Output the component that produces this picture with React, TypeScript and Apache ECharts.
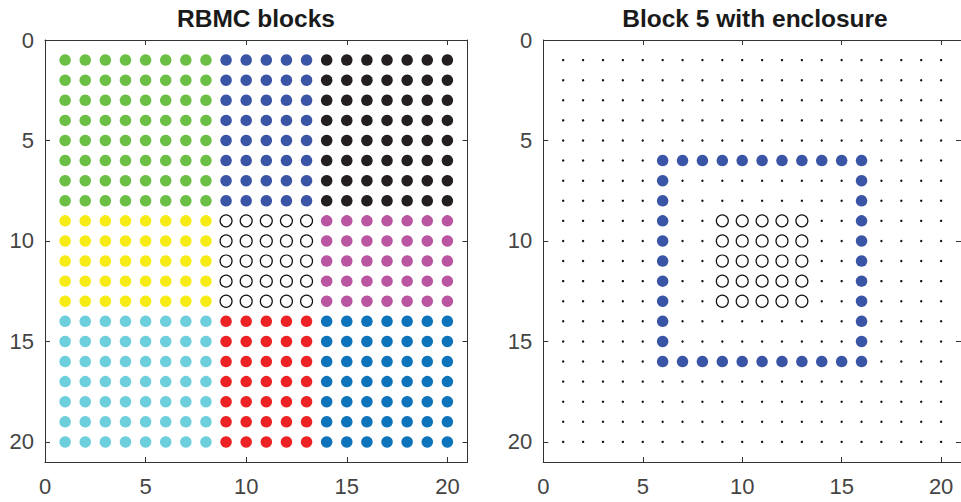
import React, { useEffect, useRef } from "react";
import * as echarts from "echarts";

// ---- data ----
const gridSize = 20;
const axisMax = 21;
const tickStep = 5;
const leftTitle = "RBMC blocks";
const rightTitle = "Block 5 with enclosure";
const colBands: number[][] = [[1, 8], [9, 13], [14, 20]];
const rowBands: number[][] = [[1, 8], [9, 13], [14, 20]];
// block colours by [rowBand][colBand]; null = open circle (block 5)
const blockColors: (string | null)[][] = [
  ["#6cbf45", "#3a55a6", "#231f20"],
  ["#f6eb14", null, "#b955a1"],
  ["#6dcfdc", "#ed2224", "#0d73bb"],
];
const enclosureRange = [6, 16];
const block5Range = [9, 13];

const FONT = "'Liberation Sans', Arial, Helvetica, sans-serif";
const AX = "#333333";

function lattice(c0: number, c1: number, r0: number, r1: number): number[][] {
  const out: number[][] = [];
  for (let r = r0; r <= r1; r++) for (let c = c0; c <= c1; c++) out.push([c, r]);
  return out;
}

export default function App() {
  const ref = useRef<HTMLDivElement>(null);
  useEffect(() => {
    if (!ref.current) return;
    const chart = echarts.init(ref.current, undefined, { renderer: "svg" });

    const labelStyle = {
      show: true,
      fontSize: 22,
      color: "#444444",
      fontFamily: FONT,
      showMaxLabel: false,
      showMinLabel: true,
    };
    const baseAxis = (extra: any) => ({
      type: "value",
      min: 0,
      max: axisMax,
      interval: tickStep,
      splitLine: { show: false },
      axisLine: { show: true, onZero: false, lineStyle: { color: AX, width: 1 } },
      axisTick: { show: true, inside: true, length: 5, lineStyle: { color: AX, width: 1 } },
      axisLabel: labelStyle,
      ...extra,
    });

    const xAxes: any[] = [];
    const yAxes: any[] = [];
    [0, 1].forEach((g) => {
      xAxes.push(baseAxis({ gridIndex: g, position: "bottom", axisLabel: { ...labelStyle, margin: 13 } }));
      xAxes.push(baseAxis({ gridIndex: g, position: "top", axisLabel: { show: false } }));
      yAxes.push(baseAxis({ gridIndex: g, position: "left", inverse: true, axisLabel: { ...labelStyle, margin: 11 } }));
      yAxes.push(baseAxis({ gridIndex: g, position: "right", inverse: true, axisLabel: { show: false } }));
    });

    const series: any[] = [];
    rowBands.forEach((rb, i) => {
      colBands.forEach((cb, j) => {
        const color = blockColors[i][j];
        const data = lattice(cb[0], cb[1], rb[0], rb[1]);
        series.push({
          type: "scatter",
          xAxisIndex: 0,
          yAxisIndex: 0,
          silent: true,
          symbol: "circle",
          symbolSize: color ? 11.5 : 12,
          itemStyle: color
            ? { color, borderWidth: 0, opacity: 1 }
            : { color: "#ffffff", borderColor: "#111111", borderWidth: 1.2, opacity: 1 },
          data,
        });
      });
    });

    // right panel
    const [e0, e1] = enclosureRange;
    const [b0, b1] = block5Range;
    const enclosure: number[][] = [];
    for (let r = e0; r <= e1; r++)
      for (let c = e0; c <= e1; c++)
        if (r === e0 || r === e1 || c === e0 || c === e1) enclosure.push([c, r]);
    const block5 = lattice(b0, b1, b0, b1);
    const isTaken = (c: number, r: number) =>
      enclosure.some((p) => p[0] === c && p[1] === r) || (c >= b0 && c <= b1 && r >= b0 && r <= b1);
    const dots = lattice(1, gridSize, 1, gridSize).filter((p) => !isTaken(p[0], p[1]));

    series.push({
      type: "scatter",
      xAxisIndex: 2,
      yAxisIndex: 2,
      silent: true,
      symbol: "circle",
      symbolSize: 2.4,
      itemStyle: { color: "#111111", opacity: 1 },
      data: dots,
    });
    series.push({
      type: "scatter",
      xAxisIndex: 2,
      yAxisIndex: 2,
      silent: true,
      symbol: "circle",
      symbolSize: 11.5,
      itemStyle: { color: "#3a55a6", opacity: 1 },
      data: enclosure,
    });
    series.push({
      type: "scatter",
      xAxisIndex: 2,
      yAxisIndex: 2,
      silent: true,
      symbol: "circle",
      symbolSize: 12,
      itemStyle: { color: "#ffffff", borderColor: "#111111", borderWidth: 1.2, opacity: 1 },
      data: block5,
    });

    chart.setOption({
      animation: false,
      backgroundColor: "#ffffff",
      grid: [
        { left: 45, top: 40, width: 422.5, height: 422 },
        { left: 543.3, top: 40, width: 425.3, height: 422 },
      ],
      xAxis: xAxes,
      yAxis: yAxes,
      graphic: [
        {
          type: "text",
          x: 256,
          y: 18,
          style: {
            text: leftTitle,
            font: `bold 24.5px ${FONT}`,
            fill: "#1a1a1a",
            textAlign: "center",
            textVerticalAlign: "middle",
          },
        },
        {
          type: "text",
          x: 755,
          y: 18,
          style: {
            text: rightTitle,
            font: `bold 24.5px ${FONT}`,
            fill: "#1a1a1a",
            textAlign: "center",
            textVerticalAlign: "middle",
          },
        },
      ],
      series,
    });
    return () => chart.dispose();
  }, []);
  return (
    <div
      ref={ref}
      style={{ position: "fixed", left: 0, top: 0, width: 961, height: 502, background: "#fff" }}
    />
  );
}
